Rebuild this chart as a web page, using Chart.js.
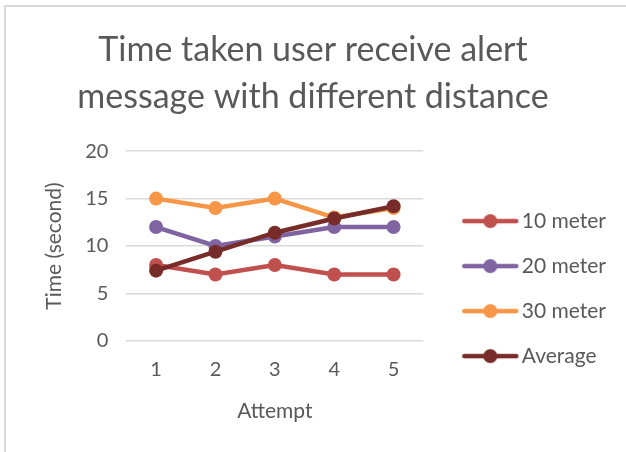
<!DOCTYPE html>
<html>
<head>
<meta charset="utf-8">
<script src="https://cdn.jsdelivr.net/npm/chart.js@4.4.1/dist/chart.umd.min.js"></script>
<style>
    html, body { margin: 0; padding: 0; background: #fff; }
    #wrap { position: absolute; left: 0; top: 0; width: 626px; height: 452px; }
    #frame { position: absolute; left: 4px; top: 5px; width: 640px; height: 460px; border-left: 2px solid #d9d9d9; border-top: 2px solid #d9d9d9; }
    canvas { position: absolute; left: 0; top: 0; }
</style>
</head>
<body>
<div id="wrap">
    <div id="frame"></div>
    <canvas id="chart" width="626" height="452"></canvas>
</div>
<script>
// --- datos del gráfico ---
const attempts = ['1', '2', '3', '4', '5'];
const seriesNames = ['10 meter', '20 meter', '30 meter', 'Average'];
const tenMeter = [8, 7, 8, 7, 7];
const twentyMeter = [12, 10, 11, 12, 12];
const thirtyMeter = [15, 14, 15, 13, 14];
const average = [7.4, 9.4, 11.4, 12.9, 14.2];
const colors = ['#C0504D', '#8064A2', '#F79646', '#772C2A'];

const FONT = 'Lato, "Liberation Sans", sans-serif';
const TEXT = '#595959';

// icono de leyenda: línea con marcador, como en Excel
const legendIcon = (color) => {
    const c = document.createElement('canvas');
    c.width = 82; c.height = 16;
    const g = c.getContext('2d');
    g.strokeStyle = color;
    g.lineWidth = 4.5;
    g.lineCap = 'round';
    g.beginPath(); g.moveTo(26, 8); g.lineTo(78, 8); g.stroke();
    g.fillStyle = color;
    g.beginPath(); g.arc(52, 8, 7, 0, Math.PI * 2); g.fill();
    return c;
};
const icons = colors.map(legendIcon);

const values = [tenMeter, twentyMeter, thirtyMeter, average];
const datasets = values.map((data, i) => ({
    label: seriesNames[i],
    data,
    borderColor: colors[i],
    backgroundColor: colors[i],
    pointBackgroundColor: colors[i],
    pointBorderColor: colors[i],
    borderWidth: 4.5,
    pointRadius: 7,
    pointBorderWidth: 0,
    tension: 0,
    order: values.length - i
}));

new Chart(document.getElementById('chart'), {
    type: 'line',
    data: { labels: attempts, datasets },
    options: {
        responsive: false,
        animation: false,
        devicePixelRatio: 1,
        layout: { padding: { left: 10, right: 10, top: 0, bottom: 28 } },
        plugins: {
            title: {
                display: true,
                text: ['Time taken user receive alert', 'message with different distance'],
                color: TEXT,
                font: { family: FONT, size: 34, weight: 'normal', lineHeight: 1.4 },
                padding: { top: 26, bottom: 30 }
            },
            legend: {
                position: 'right',
                align: 'center',
                maxWidth: 220,
                title: { display: true, text: '', padding: { top: 152, bottom: 0 }, font: { size: 1 } },
                labels: {
                    usePointStyle: true,
                    pointStyleWidth: 64,
                    padding: 24,
                    color: TEXT,
                    font: { family: FONT, size: 21 },
                    generateLabels: (chart) => chart.data.datasets.map((ds, i) => ({
                        text: ds.label,
                        fillStyle: ds.borderColor,
                        strokeStyle: ds.borderColor,
                        lineWidth: 0,
                        pointStyle: icons[i],
                        fontColor: TEXT,
                        datasetIndex: i
                    }))
                }
            },
            tooltip: { enabled: false }
        },
        scales: {
            x: {
                offset: true,
                grid: { display: false, drawTicks: false },
                border: { display: false },
                ticks: { color: TEXT, font: { family: FONT, size: 20 }, padding: 17 },
                title: { display: true, text: 'Attempt', color: TEXT, font: { family: FONT, size: 21 }, padding: { top: 0, bottom: 0 } }
            },
            y: {
                min: 0,
                max: 20,
                ticks: { stepSize: 5, color: TEXT, font: { family: FONT, size: 20 }, padding: 18 },
                grid: { color: '#d9d9d9', lineWidth: 1.5, drawTicks: false },
                border: { display: false },
                title: { display: true, text: 'Time (second)', color: TEXT, font: { family: FONT, size: 21 }, padding: { top: 32, bottom: 0 } }
            }
        }
    }
});
</script>
</body>
</html>
